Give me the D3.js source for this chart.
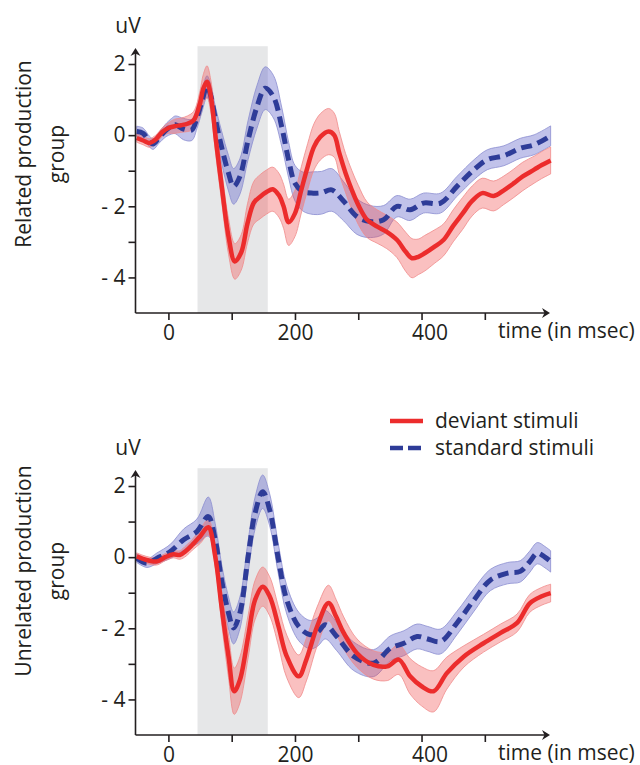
<!DOCTYPE html>
<html>
<head>
<meta charset="utf-8">
<script src="https://cdn.jsdelivr.net/npm/d3@7"></script>
<style>
  body { margin: 0; background: #fff; }
  text { font-family: "Open Sans", sans-serif; fill: #231f20; }
</style>
</head>
<body>
<svg id="chart" width="640" height="765"></svg>
<script>
// Grand-average ERPs: [time in ms, mean amplitude in uV, standard error in uV]
const relatedDeviant = [
  [-50,-0.08,0.12],[-40,-0.15,0.12],[-30,-0.22,0.12],[-20,-0.12,0.12],[-10,0.08,0.12],
  [0,0.2,0.15],[10,0.25,0.2],[20,0.28,0.2],[30,0.32,0.22],[40,0.42,0.25],
  [50,0.9,0.35],[55,1.3,0.4],[61,1.5,0.45],[67,1.1,0.45],[75,-0.13,0.45],
  [85,-1.54,0.45],[95,-2.85,0.5],[105,-3.55,0.5],[115,-3.3,0.5],[125,-2.48,0.55],
  [135,-1.9,0.6],[145,-1.73,0.62],[155,-1.6,0.62],[165,-1.52,0.62],[175,-1.7,0.62],
  [182,-2.0,0.62],[190,-2.45,0.65],[200,-2.2,0.65],[210,-1.54,0.65],[220,-0.89,0.65],
  [230,-0.33,0.65],[240,-0.05,0.65],[253,0.1,0.65],[262,0.0,0.62],[270,-0.5,0.6],
  [280,-1.07,0.55],[290,-1.55,0.55],[300,-1.96,0.55],[314,-2.38,0.5],[330,-2.57,0.47],
  [345,-2.72,0.47],[361,-2.94,0.5],[375,-3.28,0.55],[385,-3.46,0.55],[395,-3.42,0.5],
  [405,-3.32,0.5],[420,-3.14,0.47],[435,-2.94,0.45],[450,-2.55,0.45],[465,-2.2,0.45],
  [480,-1.85,0.42],[496,-1.63,0.42],[514,-1.71,0.42],[530,-1.55,0.4],[546,-1.35,0.4],
  [560,-1.16,0.4],[578,-0.97,0.38],[590,-0.84,0.38],[604,-0.71,0.38]
];
const relatedStandard = [
  [-50,0.1,0.15],[-40,0.05,0.15],[-30,-0.18,0.15],[-24,-0.25,0.15],[-15,-0.08,0.15],
  [-5,0.12,0.18],[5,0.25,0.22],[11,0.29,0.25],[24,0.17,0.3],[37,0.15,0.3],
  [45,0.48,0.3],[53,0.95,0.3],[61,1.37,0.3],[67,1.1,0.32],[74,0.47,0.35],
  [84,-0.33,0.45],[95,-1.07,0.5],[103,-1.44,0.5],[113,-1.16,0.5],[126,-0.13,0.55],
  [140,0.8,0.6],[153,1.32,0.6],[166,1.08,0.6],[179,0.24,0.55],[190,-0.7,0.5],
  [200,-1.35,0.5],[213,-1.59,0.55],[229,-1.63,0.6],[242,-1.62,0.6],[258,-1.54,0.6],
  [277,-1.86,0.55],[298,-2.29,0.5],[319,-2.43,0.45],[340,-2.38,0.4],[361,-2.0,0.3],
  [382,-2.1,0.3],[403,-1.91,0.28],[430,-1.91,0.28],[456,-1.44,0.28],[483,-0.97,0.28],
  [504,-0.69,0.28],[530,-0.58,0.28],[556,-0.37,0.28],[578,-0.27,0.28],[604,-0.02,0.28]
];
const unrelatedDeviant = [
  [-50,0.02,0.1],[-40,-0.05,0.1],[-30,-0.1,0.1],[-18,-0.12,0.1],[-5,0.0,0.1],
  [8,0.08,0.1],[18,0.06,0.12],[28,0.18,0.15],[38,0.35,0.15],[50,0.58,0.2],
  [63,0.84,0.22],[74,0.02,0.3],[84,-1.39,0.45],[95,-2.79,0.6],[104,-3.77,0.65],
  [113,-3.45,0.65],[126,-2.23,0.6],[137,-1.2,0.55],[149,-0.83,0.55],[160,-1.1,0.55],
  [174,-1.95,0.55],[187,-2.79,0.6],[206,-3.35,0.6],[218,-2.88,0.6],[235,-1.95,0.55],
  [253,-1.29,0.5],[265,-1.67,0.48],[277,-2.13,0.45],[298,-2.7,0.4],[324,-3.03,0.4],
  [346,-3.07,0.4],[364,-2.88,0.42],[382,-3.35,0.5],[400,-3.63,0.55],[419,-3.77,0.58],
  [440,-3.26,0.45],[467,-2.79,0.3],[498,-2.42,0.25],[525,-2.13,0.25],[551,-1.85,0.25],
  [571,-1.3,0.25],[590,-1.1,0.25],[604,-1.01,0.25]
];
const unrelatedStandard = [
  [-50,-0.03,0.12],[-34,-0.17,0.12],[-18,-0.03,0.15],[3,0.16,0.2],[24,0.49,0.3],
  [45,0.72,0.35],[63,1.14,0.55],[74,0.49,0.45],[84,-0.64,0.45],[95,-1.57,0.45],
  [103,-1.99,0.45],[113,-1.57,0.45],[126,0.02,0.45],[137,1.24,0.45],[149,1.84,0.47],
  [160,1.33,0.45],[174,-0.08,0.42],[187,-1.2,0.4],[206,-1.95,0.4],[224,-2.18,0.4],
  [236,-2.1,0.4],[248,-1.9,0.4],[266,-2.23,0.4],[293,-2.79,0.4],[324,-2.98,0.38],
  [351,-2.56,0.35],[372,-2.42,0.35],[393,-2.23,0.35],[410,-2.3,0.35],[430,-2.37,0.35],
  [456,-1.85,0.33],[483,-1.2,0.32],[509,-0.64,0.3],[536,-0.45,0.3],[556,-0.4,0.3],
  [570,-0.15,0.3],[583,0.11,0.3],[595,0.0,0.3],[604,-0.12,0.3]
];

// Shaded analysis window (ms) and axis ticks
const analysisWindow = [46, 157];
const timeTicks = [0, 100, 200, 300, 400, 500];
const timeTickLabels = [0, 200, 400];
const ampTicks = [-4, -3, -2, -1, 0, 1, 2];
const ampTickLabels = [-4, -2, 0, 2];
const groupLabels = [["Related production", "group"], ["Unrelated production", "group"]];
const seriesNames = ["deviant stimuli", "standard stimuli"];

const RED = "#ec2c2c", BLUE = "#2e3c98", INK = "#231f20";

const svg = d3.select("#chart");
const x = d3.scaleLinear().domain([-52, 603]).range([135.5, 550]);

const panels = [
  { dev: relatedDeviant, std: relatedStandard, base: 313, labelY: 154 },
  { dev: unrelatedDeviant, std: unrelatedStandard, base: 735, labelY: 571 }
];

panels.forEach((p, i) => {
  const y = d3.scaleLinear().domain([-5, 2.45]).range([p.base, p.base - 265]);
  const g = svg.append("g");

  // analysis window
  g.append("rect")
    .attr("x", x(analysisWindow[0]))
    .attr("width", x(analysisWindow[1]) - x(analysisWindow[0]))
    .attr("y", y(2.5))
    .attr("height", y(-5) - y(2.5))
    .attr("fill", "#e6e7e8");

  const curve = d3.curveCatmullRom.alpha(0.5);
  const band = d3.area().curve(curve)
    .x(d => x(d[0])).y0(d => y(d[1] - d[2])).y1(d => y(d[1] + d[2]));
  const line = d3.line().curve(curve).x(d => x(d[0])).y(d => y(d[1]));

  g.append("path").datum(p.std).attr("d", band)
    .attr("fill", "#5b5fc7").attr("fill-opacity", 0.38)
    .attr("stroke", "#8c8ed0").attr("stroke-width", 0.8);
  g.append("path").datum(p.dev).attr("d", band)
    .attr("fill", "#f05050").attr("fill-opacity", 0.36)
    .attr("stroke", "#f08a8a").attr("stroke-width", 0.8);

  g.append("path").datum(p.std).attr("d", line)
    .attr("fill", "none").attr("stroke", BLUE).attr("stroke-width", 5)
    .attr("stroke-dasharray", "11,6");
  g.append("path").datum(p.dev).attr("d", line)
    .attr("fill", "none").attr("stroke", RED).attr("stroke-width", 4.5)
    .attr("stroke-linejoin", "round");

  // axes
  const xAxis = g.append("g").attr("transform", `translate(0,${p.base})`)
    .call(d3.axisBottom(x).tickValues(timeTicks).tickSize(7).tickPadding(5)
      .tickFormat(d => timeTickLabels.includes(d) ? d : ""));
  xAxis.selectAll(".tick text").filter(d => d === 400).attr("dx", 8);
  const yAxis = g.append("g").attr("transform", `translate(${x.range()[0]},0)`)
    .call(d3.axisLeft(y).tickValues(ampTicks).tickSize(7).tickPadding(3)
      .tickFormat(d => ampTickLabels.includes(d) ? (d < 0 ? "- " + (-d) : String(d)) : ""));
  [xAxis, yAxis].forEach(a => {
    a.select(".domain").remove();
    a.attr("font-family", null).attr("font-size", 21);
    a.selectAll("line").attr("stroke", INK).attr("stroke-width", 1.6);
    a.selectAll("text").attr("fill", INK);
  });

  const x0 = x.range()[0], x1 = x.range()[1];
  const yTop = y.range()[1];
  g.append("line").attr("x1", x0).attr("x2", x0).attr("y1", p.base).attr("y2", yTop + 2)
    .attr("stroke", INK).attr("stroke-width", 1.6);
  g.append("line").attr("x1", x0).attr("x2", x1 - 2).attr("y1", p.base).attr("y2", p.base)
    .attr("stroke", INK).attr("stroke-width", 1.6);
  // arrowheads
  g.append("path")
    .attr("d", `M${x0},${yTop} L${x0 - 5},${yTop + 8} L${x0},${yTop + 5.5} L${x0 + 5},${yTop + 8} Z`)
    .attr("fill", INK);
  g.append("path")
    .attr("d", `M${x1},${p.base} L${x1 - 8},${p.base - 5} L${x1 - 5.5},${p.base} L${x1 - 8},${p.base + 5} Z`)
    .attr("fill", INK);

  g.append("text").attr("x", 128).attr("y", yTop - 15)
    .attr("text-anchor", "middle").attr("font-size", 21).text("uV");
  g.append("text").attr("x", 498).attr("y", p.base + 25)
    .attr("font-size", 21).text("time (in msec)");

  groupLabels[i].forEach((t, k) => {
    g.append("text")
      .attr("transform", `translate(${31 + k * 33},${p.labelY}) rotate(-90)`)
      .attr("text-anchor", "middle").attr("font-size", 21).text(t);
  });
});

// legend
const legend = svg.append("g");
const legendStyles = [
  { color: RED, dash: null, y: 421 },
  { color: BLUE, dash: "13,5", y: 448 }
];
seriesNames.forEach((name, i) => {
  const s = legendStyles[i];
  legend.append("line").attr("x1", 390).attr("x2", 423).attr("y1", s.y).attr("y2", s.y)
    .attr("stroke", s.color).attr("stroke-width", 4.5)
    .attr("stroke-dasharray", s.dash);
  legend.append("text").attr("x", 435).attr("y", s.y + 7)
    .attr("font-size", 21).text(name);
});
</script>
</body>
</html>
